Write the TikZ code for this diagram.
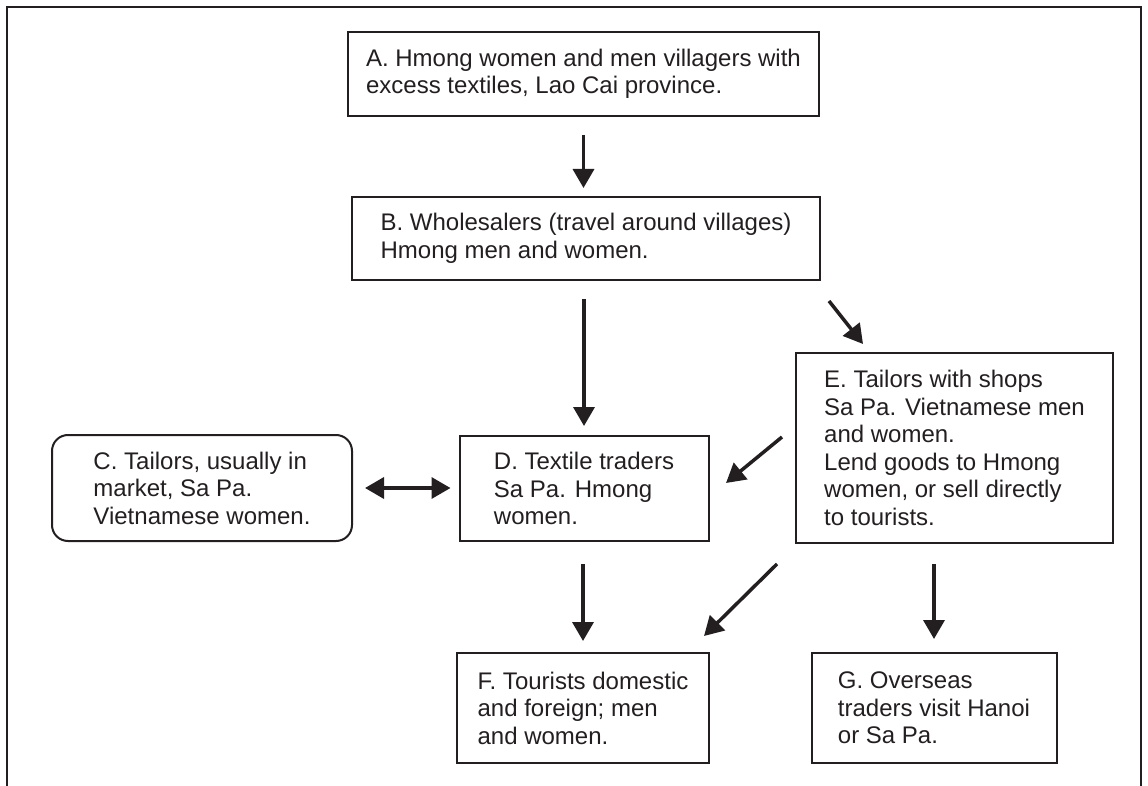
\documentclass[tikz,border=0pt]{standalone}
\usepackage{fontspec}
\setmainfont{Liberation Sans}
\usepackage{tikz}
\usetikzlibrary{positioning}
\usetikzlibrary{arrows.meta}

\definecolor{ink}{RGB}{35,31,32}
\tikzset{
    box/.style={draw=ink, line width=2pt, align=left, inner sep=2pt, text=ink,
        font=\fontsize{24}{27.5}\selectfont},
    flow/.style={draw=ink, line width=3.5pt, -{Triangle[width=21pt,length=19pt]}},
    both/.style={draw=ink, line width=3.5pt, {Triangle[width=21pt,length=19pt]}-{Triangle[width=21pt,length=19pt]}},
}

\begin{document}
\begin{tikzpicture}[x=1pt, y=-1pt]
        \useasboundingbox (0,0) rectangle (1148,786);
        \draw[ink, line width=2pt] (7,786) -- (7,7) -- (1141,7) -- (1141,786);
        \node[box, minimum width=471pt, minimum height=84pt] (villagers) at (583.5, 74) {A. Hmong women and men villagers with\\excess textiles, Lao Cai province.};
        \node[box, minimum width=468pt, minimum height=83pt] (wholesalers) at (586, 238.5) {B. Wholesalers (travel around villages)\\Hmong men and women.};
        \node[box, rounded corners=16pt, minimum width=300pt, minimum height=106pt] (market) at (202, 488) {C. Tailors, usually in\\market, Sa Pa.\\Vietnamese women.};
        \node[box, minimum width=249pt, minimum height=105pt] (traders) at (584, 488.5) {D. Textile traders\\Sa Pa. Hmong\\women.};
        \node[box, minimum width=317pt, minimum height=190pt] (shops) at (954.5, 448) {E. Tailors with shops\\Sa Pa. Vietnamese men\\and women.\\Lend goods to Hmong\\women, or sell directly\\to tourists.};
        \node[box, minimum width=252pt, minimum height=110pt] (tourists) at (583, 708) {F. Tourists domestic\\and foreign; men\\and women.};
        \node[box, minimum width=245pt, minimum height=110pt] (overseas) at (934, 708) {G. Overseas\\traders visit Hanoi\\or Sa Pa.};
        \draw[flow, shorten <=18pt, shorten >=8pt] (villagers.south) -- (villagers.south |- wholesalers.north);
        \draw[flow, shorten <=18pt, shorten >=9pt] (traders.north |- wholesalers.south) -- (traders.north);
        \draw[flow] ([shift={(8,20)}]wholesalers.south east) -- ([shift={(68,-8)}]shops.north west);
        \draw[both, shorten <=12pt, shorten >=8pt] (market.east) -- (market.east -| traders.west);
        \draw[flow] ([shift={(-13,-11)}]shops.west) -- ([shift={(16.5,-5.5)}]traders.east);
        \draw[flow, shorten <=22pt, shorten >=11pt] (tourists.north |- traders.south) -- (tourists.north);
        \draw[flow] ([shift={(-18,20)}]shops.south west) -- ([shift={(-6,-16)}]tourists.north east);
        \draw[flow, shorten <=20pt, shorten >=13pt] (overseas.north |- shops.south) -- (overseas.north);
    \end{tikzpicture}
\end{document}
